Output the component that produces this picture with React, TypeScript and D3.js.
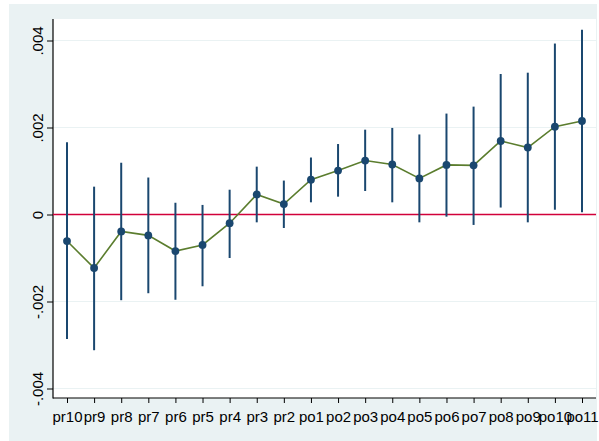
import React, { useEffect, useRef } from "react";
import * as d3 from "d3";

const categories = [
  "pr10", "pr9", "pr8", "pr7", "pr6", "pr5", "pr4", "pr3", "pr2",
  "po1", "po2", "po3", "po4", "po5", "po6", "po7", "po8", "po9", "po10", "po11",
];
const estimates = [
  -0.00061, -0.00123, -0.00039, -0.00048, -0.00084, -0.0007, -0.0002, 0.00046, 0.00024,
  0.0008, 0.00101, 0.00124, 0.00115, 0.00083, 0.00114, 0.00113, 0.00169, 0.00154, 0.00202, 0.00215,
];
const ciUpper = [
  0.00166, 0.00064, 0.00119, 0.00085, 0.00027, 0.00022, 0.00057, 0.0011, 0.00078,
  0.00131, 0.00162, 0.00195, 0.00199, 0.00184, 0.00232, 0.00248, 0.00323, 0.00326, 0.00393, 0.00425,
];
const ciLower = [
  -0.00286, -0.00312, -0.00197, -0.00181, -0.00196, -0.00165, -0.001, -0.00018, -0.00031,
  0.00028, 0.00041, 0.00054, 0.00028, -0.00018, -0.00005, -0.00024, 0.00016, -0.00018, 0.00011, 0.00005,
];
const yTicks = [-0.004, -0.002, 0, 0.002, 0.004];
const yTickLabels = ["-.004", "-.002", "0", ".002", ".004"];

const width = 599;
const height = 441;

const App = () => {
  const ref = useRef<SVGSVGElement>(null);

  useEffect(() => {
    const svg = d3.select(ref.current);
    svg.selectAll("*").remove();

    const plot = { left: 53, right: 596, top: 19, bottom: 398 };
    const navy = "#1a476f";
    const font = "'Liberation Sans', Arial, sans-serif";

    const x = d3.scalePoint<string>().domain(categories).range([67, 582]);
    const y = d3.scaleLinear().domain([-0.004, 0.004]).range([388.5, 40.5]);

    // graph region
    svg.append("rect").attr("x", 9).attr("y", 4).attr("width", 588).attr("height", height - 4)
      .attr("fill", "#eaf2f3");
    svg.append("rect").attr("x", plot.left).attr("y", plot.top)
      .attr("width", plot.right - plot.left).attr("height", plot.bottom - plot.top)
      .attr("fill", "#ffffff");

    // gridlines
    svg.append("g").selectAll("line").data(yTicks).join("line")
      .attr("x1", plot.left).attr("x2", plot.right)
      .attr("y1", (d) => y(d)).attr("y2", (d) => y(d))
      .attr("stroke", "#eaf2f3").attr("stroke-width", 1);

    // y axis
    const yAxis = svg.append("g").attr("transform", `translate(${plot.left},0)`)
      .call(d3.axisLeft(y).tickValues(yTicks)
        .tickFormat((d, i) => yTickLabels[i]).tickSize(6).tickSizeOuter(0));
    yAxis.select(".domain").remove();
    yAxis.selectAll("line").attr("stroke", "#000");
    yAxis.selectAll("text")
      .attr("x", 0).attr("y", 0).attr("dy", 0)
      .attr("text-anchor", "middle")
      .attr("transform", "translate(-10,0) rotate(-90)")
      .attr("font-family", font).attr("font-size", 15).attr("fill", "#000");

    // x axis
    const xAxis = svg.append("g").attr("transform", `translate(0,${plot.bottom})`)
      .call(d3.axisBottom(x).tickSize(5).tickSizeOuter(0));
    xAxis.select(".domain").remove();
    xAxis.selectAll("line").attr("stroke", "#000");
    xAxis.selectAll("text").attr("y", 13)
      .attr("font-family", font).attr("font-size", 15).attr("fill", "#000");

    svg.append("line").attr("x1", plot.left).attr("x2", plot.left)
      .attr("y1", plot.top).attr("y2", plot.bottom + 0.5)
      .attr("stroke", "#000").attr("stroke-width", 1.2);
    svg.append("line").attr("x1", plot.left).attr("x2", plot.right)
      .attr("y1", plot.bottom).attr("y2", plot.bottom)
      .attr("stroke", "#000").attr("stroke-width", 1.2);

    // zero line
    svg.append("line").attr("x1", plot.left).attr("x2", plot.right)
      .attr("y1", y(0)).attr("y2", y(0))
      .attr("stroke", "#d1003a").attr("stroke-width", 1.6);

    // confidence intervals
    svg.append("g").selectAll("line").data(categories).join("line")
      .attr("x1", (d) => x(d)!).attr("x2", (d) => x(d)!)
      .attr("y1", (d, i) => y(ciUpper[i])).attr("y2", (d, i) => y(ciLower[i]))
      .attr("stroke", navy).attr("stroke-width", 2);

    // connecting line
    const line = d3.line<number>()
      .x((d, i) => x(categories[i])!)
      .y((d) => y(d));
    svg.append("path").datum(estimates).attr("d", line)
      .attr("fill", "none").attr("stroke", "#5b7d2e").attr("stroke-width", 1.6);

    // point estimates
    svg.append("g").selectAll("circle").data(estimates).join("circle")
      .attr("cx", (d, i) => x(categories[i])!).attr("cy", (d) => y(d))
      .attr("r", 3.9).attr("fill", navy);
  }, []);

  return (
    <svg ref={ref} width={width} height={height}
      style={{ position: "absolute", left: 0, top: 0, background: "#fff" }} />
  );
};

export default App;
